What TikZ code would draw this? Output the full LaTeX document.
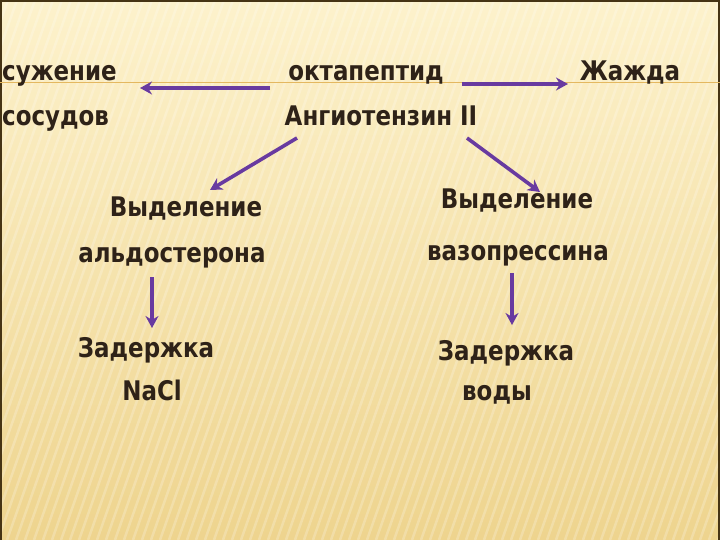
\documentclass[tikz,border=0pt]{standalone}
\usepackage{fontspec}
\setmainfont[FakeStretch=0.85,BoldFeatures={FakeStretch=0.85}]{DejaVu Sans}
\usepackage{xcolor}
\usetikzlibrary{arrows.meta,calc}
\definecolor{bgtop}{RGB}{253,242,204}
\definecolor{bgbot}{RGB}{238,212,142}
\definecolor{ink}{RGB}{46,34,24}
\definecolor{arrcol}{RGB}{104,58,160}
\definecolor{rule}{RGB}{228,184,96}
\definecolor{frame}{RGB}{70,52,20}
\tikzset{
  lbl/.style={anchor=base, inner sep=0pt, text=ink, font=\fontsize{27}{30}\selectfont\bfseries},
  arr/.style={-{Stealth[length=12pt,width=13pt]}, line width=3.6pt, draw=arrcol},
  stripe/.style={white, opacity=0.22, line width=2.5pt},
}
\begin{document}
\begin{tikzpicture}[x=1pt,y=-1pt]
\useasboundingbox (0,0) rectangle (720,540);
\shade[top color=bgtop, bottom color=bgbot] (0,0) rectangle (720,540);
% faint slanted texture
\begin{scope}
\clip (0,0) rectangle (720,540);
\foreach \i in {-200,-191,...,720}
  \draw[stripe] (\i,540) -- (\i+190,0);
\end{scope}
\draw[frame, line width=1.2pt] (1,540) -- (1,1) -- (719,1) -- (719,540);
\draw[rule, line width=1pt] (0,83) -- (720,83);
% first row
\node[lbl, anchor=base west] (suz1) at (2,81) {сужение};
\node[lbl, anchor=base west] (suz2) at (2,126) {сосудов};
\node[lbl] (okt) at (366,81) {октапептид};
\node[lbl] (ang) at (381,126) {Ангиотензин II};
\node[lbl] (zh) at (630,81) {Жажда};
% second row
\node[lbl] (vy1) at (186,217) {Выделение};
\node[lbl] (ald) at (172,262) {альдостерона};
\node[lbl] (vy2) at (517,209) {Выделение};
\node[lbl] (vaz) at (518,260) {вазопрессина};
% third row
\node[lbl] (zd1) at (146,357) {Задержка};
\node[lbl] (nacl) at (152,400) {NaCl};
\node[lbl] (zd2) at (506,360) {Задержка};
\node[lbl] (vod) at (497,400) {воды};
\draw[arr] ([shift={(-96,7)}]okt.base) -- ([shift={(138,7)}]suz1.base west);
\draw[arr] ([shift={(96,3)}]okt.base) -- ([shift={(-62,3)}]zh.base);
\draw[arr] ([shift={(-84,12)}]ang.base) -- ([shift={(24,-27)}]vy1.base);
\draw[arr] ([shift={(86,12)}]ang.base) -- ([shift={(23,-17)}]vy2.base);
\draw[arr] ([shift={(-20,15)}]ald.base) -- ([shift={(6,-29)}]zd1.base);
\draw[arr] ([shift={(-6,13)}]vaz.base) -- ([shift={(6,-35)}]zd2.base);
\end{tikzpicture}
\end{document}
